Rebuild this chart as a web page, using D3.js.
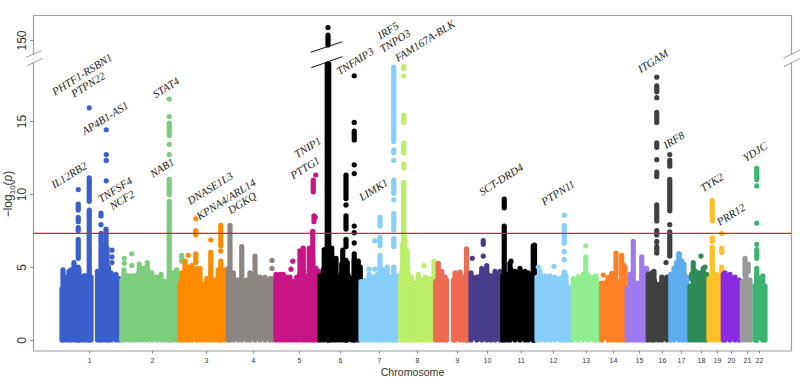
<!DOCTYPE html>
<html>
<head>
<meta charset="utf-8">
<script src="https://cdn.jsdelivr.net/npm/d3@7"></script>
<style>
  html, body { margin: 0; padding: 0; background: #fff; }
  svg { display: block; }
</style>
</head>
<body>
<script>
const width = 800;
const height = 377;

const chromosomes = ['1','2','3','4','5','6','7','8','9','10','11','12','13','14','15','16','17','18','19','20','21','22'];
const chromColors = ['#3a5fcd','#7ccd7c','#ff8c00','#8b8682','#c71585','#000000','#87cefa','#bcee68','#ee6a50','#483d8b','#000000','#87cefa','#90ee90','#ff7f24','#9f79ee','#404040','#5cacee','#2e8b57','#ffc125','#8a2be2','#999999','#3cb371'];
const tickPos = [121,372,588,776,960,1124,1280,1432,1592,1712,1847,1976,2107,2216,2320,2412,2488,2568,2632,2688,2752,2800];

// upper edge of the solid mass per chromosome: genome position (Mb) and -log10(p), null = gap
const massPos = [
  [12,16,28,40,48,60,72,80,88,100,108,116,128,140,154,162,168,180,192,198,208,228,240],
  [251,260,277,291,304,321,337,353,371,391,408,424,441,457,471],
  [484,491,504,517,531,551,564,577,591,607,624,637,651,664],
  [677,697,717,731,751,764,784,804,824,844,856],
  [868,884,897,911,924,937,951,964,977,988,1001,1015,1028,1037],
  [1044,1057,1077,1091,1104,1117,1131,1144,1153,1171,1181,1197],
  [1208,1224,1240,1257,1273,1284,1297,1313,1327,1339,1353],
  [1367,1380,1395,1410,1423,1437,1451,1465,1481,1497],
  [1507,1517,1531,1544,1550,1564,1578,1584,1604,1617,1631,1637],
  [1648,1671,1691,1711,1727,1744,1764],
  [1775,1793,1804,1824,1844,1864,1877,1897],
  [1912,1924,1944,1964,1984,2004,2017,2028,2041,2047],
  [2057,2077,2097,2117,2137,2148,2160],
  [2171,2197,2211,2228,2237,2251,2264],
  [2273,2284,2297,2308,2317,2331,2341,2351],
  [2357,2371,2380,2397,2411,2431],
  [2447,2460,2480,2491,2500,2511],
  [2524,2537,2551,2564,2577,2591],
  [2600,2613,2631,2644],
  [2657,2664,2684,2704,2721],
  [2733,2748,2764],
  [2784,2791,2815,2824]
];
const massTop = [
  [3.5,4.8,4.3,4.7,4.8,5.3,4.6,4.8,4.3,4.4,4.4,4.4,4.3,null,4.7,4.3,6.3,6.5,6.3,5.0,4.6,4.5,4.2],
  [4.1,4.8,4.4,4.4,4.4,5.2,4.9,5.3,4.6,4.3,4.5,4.0,4.2,4.6,4.8],
  [3.9,4.6,5.4,5.0,5.1,4.9,4.9,3.8,4.2,4.6,4.1,4.8,4.6,4.8],
  [4.9,4.6,4.1,4.2,4.1,4.6,4.5,4.3,4.3,4.2,4.2],
  [4.5,4.5,4.5,4.3,4.3,4.0,4.3,4.6,4.7,4.4,4.8,5.5,4.9,4.7],
  [4.4,4.8,5.0,5.2,5.3,4.4,5.2,5.0,5.3,4.2,5.5,5.4],
  [4.0,4.1,4.5,4.3,4.5,4.6,4.8,5.0,4.3,4.4,4.4],
  [4.2,5.0,5.0,4.3,3.9,4.5,4.1,4.3,4.2,4.2],
  [4.0,5.25,4.7,4.3,4.1,null,4.1,4.6,4.65,4.3,4.8,4.2],
  [4.6,4.3,4.9,5.1,4.4,4.7,4.7],
  [4.4,4.5,5.25,4.7,4.9,4.7,4.6,4.5],
  [4.3,4.7,4.4,4.4,4.3,4.2,4.4,4.4,3.6,2.9],
  [4.2,4.35,4.5,4.45,4.3,4.4,3.9],
  [3.9,4.3,4.55,4.2,3.9,4.5,5.0],
  [3.5,4.5,4.6,3.9,3.9,4.3,4.9,4.9],
  [4.5,4.6,4.7,3.8,4.3,4.3],
  [4.5,4.9,5.9,5.4,5.2,4.3],
  [3.7,4.4,4.6,4.6,4.9,4.5],
  [4.2,4.5,4.5,4.2],
  [4.5,4.6,4.5,4.3,4.1],
  [4.0,4.7,4.1],
  [3.7,4.4,4.4,3.7]
];

// stacks of associated SNPs above the mass, per chromosome: position, low and high -log10(p)
const hitPos = [
  [121,121,121,77,77,77,77,77,77,168,168,168,188,189,189,189,189,212,212,212],
  [261,261,291,291,441,441,441,441,441,441,441,441,491],
  [517,547,547,547,607,607,647,647,647],
  [684,731,784,852,852],
  [928,935,964,977,1001,1015,1020,1025,1017,1027],
  [1073,1079,1076,1076,1061,1091,1108,1148,1148,1148,1148,1148,1181,1181,1181,1181,1181,1181,1181,1181,1181,1135,1205],
  [1240,1263,1263,1284,1284,1284,1339,1339,1339,1339,1339,1339,1339,1339],
  [1379,1379,1379,1379,1379,1379,1383,1375,1393,1460,1500,1391,1369],
  [1630],
  [1653,1697,1697],
  [1781,1781,1897,1902,1808],
  [1917,1980,2021,2021,2021,2021,2021],
  [2107,2107],
  [2177,2228,2251,2260,2211],
  [2297,2297,2331],
  [2391,2391,2391,2391,2391,2391,2391,2391,2391,2391,2391,2443,2443,2443,2443,2443,2428],
  [2480,2470,2491],
  [2537,2568,2584,2537,2530,2546],
  [2613,2613,2613,2651,2651,2651],
  [],
  [2744,2757],
  [2791,2791,2791,2791,2791,2791]
];
const hitLow = [
  [0,9.5,15.9,8.9,8.1,7.5,5.6,0,10.3,8.5,7.9,6.5,6.5,14.4,12.7,12.3,10.9,6.15,5.7,5.3],
  [5.6,5.25,5.9,5.1,0,9.95,16.5,12.7,13.4,14.0,14.6,15.3,5.4],
  [5.8,8.3,7.2,5.3,6.85,4.6,6.45,6.1,0],
  [0,4.2,4.0,5.45,4.9],
  [4.85,5.4,4.5,4.6,4.8,0,8.1,8.4,10.15,11.3],
  [0,0,140,175,4,4,4,9.7,9.25,7.6,6.4,0,18.1,14.9,13.7,12.0,11.4,7.8,7.35,6.65,0,5,4],
  [4.85,6.8,4.85,7.8,6.45,4,13.6,12.85,12.3,10.05,9.6,7.55,6.4,0],
  [18.6,18.1,14.9,12.8,11.8,0,0,0,4,5.1,4,4,4],
  [0],
  [5.6,6.55,5.75],
  [9.05,0,0,0,5.4],
  [5.0,5.05,8.55,6.65,6.05,5.5,0],
  [6.45,4.6],
  [4.45,4.5,4.3,5.1,4.55],
  [5.6,4.6,4.3],
  [18.0,17.0,16.6,14.9,13.2,12.35,11.2,8.15,7.2,6.7,5.95,12.7,11.9,8.85,7.9,5.75,5.3],
  [4.9,4.9,5.2],
  [4.9,5.75,5.0,4.5,4.2,4.5],
  [8.15,6.75,4.6,7.3,6.0,4],
  [],
  [4.4,4.7],
  [11.0,10.55,8.0,6.55,5.6,0]
];
const hitHigh = [
  [8.9,11.1,15.9,9.3,8.4,7.7,6.9,5.0,10.3,8.7,7.9,7.3,7.6,14.4,12.7,12.3,10.9,6.15,5.7,5.3],
  [5.6,5.25,5.9,5.1,9.5,11.0,16.5,12.7,13.4,14.4,14.85,15.3,5.8],
  [5.8,8.3,7.5,5.9,6.85,6.0,7.85,6.1,5.4],
  [7.85,6.4,5.75,5.45,4.9],
  [4.85,5.4,6.1,6.3,6.3,7.45,8.5,8.4,10.95,11.3],
  [18.9,18.9,160,175,6.2,6.3,5.6,11.3,9.25,8.5,6.9,5.45,18.1,14.9,14.3,12.0,11.4,7.8,7.35,6.65,5.9,6.15,5],
  [4.85,6.8,4.85,8.4,7.05,5.8,18.7,13.0,12.3,10.95,9.6,8.65,6.95,5.0],
  [18.75,18.1,15.4,13.5,12.05,10.8,7.0,6.6,6.1,5.1,5.4,5.0,4.6],
  [6.25],
  [5.6,6.8,5.75],
  [9.65,7.8,6.45,6.5,5.4],
  [5.0,5.05,8.55,7.85,6.05,5.5,4.65],
  [6.45,5.7],
  [4.45,5.95,5.8,5.1,4.55],
  [6.75,5.4,5.7],
  [18.0,17.4,16.6,15.6,13.5,12.35,11.5,9.25,7.5,6.75,6.4,12.7,12.3,11.0,7.9,7.4,5.3],
  [5.9,5.3,5.4],
  [5.3,5.75,5.0,4.7,4.5,4.7],
  [9.55,7.0,6.35,7.3,6.3,5.0],
  [],
  [5.6,5.2],
  [11.75,10.55,8.0,6.55,6.2,4.9]
];

const geneNames = ['PHTF1-RSBN1','PTPN22','AP4B1-AS1','IL12RB2','TNFSF4','NCF2','STAT4','NAB1','DNASE1L3','KPNA4/ARL14','DGKQ','TNIP1','PTTG1','TNFAIP3','IRF5','TNPO3','FAM167A-BLK','LIMK1','SCT-DRD4','PTPN11','ITGAM','IRF8','TYK2','YDJC','PRR12'];
const genePos = [92,116,184,40,224,252,428,412,604,668,732,995,984,1184,1316,1344,1464,1258,1768,1996,2376,2459,2611,2784,2688];
const geneLog = [18.2,17.5,15.2,11.3,10.3,9.6,17.3,11.8,10.4,9.65,9.4,13.2,11.8,19.1,21.2,20.5,20.5,10.3,11,10.1,19.1,13.7,10.8,12.9,8.6];

const threshold = 7.3;
const yTicksLow = [0, 5, 10, 15];
const yTicksHigh = [150];

const box = {left: 33.5, right: 791.5, top: 15.5, bottom: 351};
const dot = 5.2;

const x = d3.scaleLinear().domain([0, 2828]).range([59, 766]);
const yLow = d3.scaleLinear().domain([0, 15]).range([340, 121]);
const yHigh = d3.scaleLinear().domain([130, 180]).range([50, 25]);
const y = v => v > 25 ? yHigh(v) : yLow(v);

const svg = d3.select('body').append('svg').attr('width', width).attr('height', height)
  .style('font-family', '"Liberation Sans", sans-serif');

// frame, interrupted at the axis break
const frame = [
  [[box.left, 55], [box.left, box.top], [box.right, box.top], [box.right, 55]],
  [[box.left, 62], [box.left, box.bottom], [box.right, box.bottom], [box.right, 62]]
];
svg.append('g').selectAll('path').data(frame).join('path')
  .attr('d', d3.line())
  .attr('fill', 'none')
  .attr('stroke', '#a0a0a0')
  .attr('stroke-width', 1.2);

const slashes = [
  [[26, 57.3], [41.7, 50.7]], [[27.3, 65.7], [42.7, 58.3]],
  [[783.3, 58.3], [800, 50]], [[784, 66.7], [800, 58.3]]
];
svg.append('g').selectAll('path').data(slashes).join('path')
  .attr('d', d3.line())
  .attr('stroke', '#a0a0a0')
  .attr('stroke-width', 1);

const area = d3.area()
  .defined(d => d[1] !== null)
  .x(d => x(d[0]))
  .y0(yLow(0))
  .y1(d => yLow(d[1]));

chromosomes.forEach((c, i) => {
  const g = svg.append('g').attr('class', 'chr' + c);
  const mass = d3.zip(massPos[i], massTop[i]);
  g.append('path').attr('d', area(mass)).attr('fill', chromColors[i]);
  g.selectAll('line.col').data(mass.filter(d => d[1] !== null)).join('line')
    .attr('class', 'col')
    .attr('x1', d => x(d[0])).attr('x2', d => x(d[0]))
    .attr('y1', yLow(0)).attr('y2', d => yLow(d[1]))
    .attr('stroke', chromColors[i])
    .attr('stroke-width', dot)
    .attr('stroke-linecap', 'round');
  g.selectAll('line.hit').data(d3.zip(hitPos[i], hitLow[i], hitHigh[i])).join('line')
    .attr('class', 'hit')
    .attr('x1', d => x(d[0])).attr('x2', d => x(d[0]))
    .attr('y1', d => y(d[1])).attr('y2', d => y(d[2]))
    .attr('stroke', chromColors[i])
    .attr('stroke-width', dot)
    .attr('stroke-linecap', 'round');
});

// break in the chromosome 6 peak
svg.append('g').selectAll('path')
  .data([[[310.7, 52.3], [342.3, 41.7]], [[311.3, 67.7], [342.3, 56.7]]]).join('path')
  .attr('d', d3.line())
  .attr('stroke', '#111')
  .attr('stroke-width', 1);

svg.append('line')
  .attr('x1', box.left).attr('x2', box.right)
  .attr('y1', yLow(threshold)).attr('y2', yLow(threshold))
  .attr('stroke', '#f01c1c')
  .attr('stroke-width', 1.3);

const yAxis = (g, scale, ticks) => g
  .attr('transform', `translate(${box.left},0)`)
  .call(d3.axisLeft(scale).tickValues(ticks).tickSize(3.5).tickPadding(3))
  .call(g => g.select('.domain').remove())
  .call(g => g.selectAll('line').attr('stroke', '#909090'))
  .call(g => g.selectAll('text')
    .attr('transform', 'rotate(-90)')
    .attr('x', 0).attr('dy', 0)
    .attr('y', -8)
    .attr('fill', '#333')
    .style('font-size', '12px')
    .style('text-anchor', 'middle'));

svg.append('g').call(yAxis, yLow, yTicksLow);
svg.append('g').call(yAxis, yHigh, yTicksHigh);

svg.append('g')
  .attr('transform', `translate(0,${box.bottom})`)
  .call(d3.axisBottom(x).tickValues(tickPos).tickFormat((d, i) => chromosomes[i]).tickSize(2.5).tickPadding(5))
  .call(g => g.select('.domain').remove())
  .call(g => g.selectAll('line').attr('stroke', '#808080'))
  .call(g => g.selectAll('text').attr('fill', '#333').style('font-size', '7px'));

svg.append('text')
  .attr('x', 412.5).attr('y', 376)
  .attr('text-anchor', 'middle')
  .attr('fill', '#333')
  .style('font-size', '10.6px')
  .text('Chromosome');

const yLabel = svg.append('text')
  .attr('transform', 'translate(12,194) rotate(-90)')
  .attr('text-anchor', 'middle')
  .attr('fill', '#333')
  .style('font-size', '12px');
yLabel.append('tspan').text('−log');
yLabel.append('tspan').attr('dy', 3).style('font-size', '8px').text('10');
yLabel.append('tspan').attr('dy', -3).text('(');
yLabel.append('tspan').style('font-style', 'italic').text('p');
yLabel.append('tspan').text(')');

svg.append('g').selectAll('text').data(geneNames).join('text')
  .attr('transform', (d, i) => `translate(${x(genePos[i])},${yLow(geneLog[i])}) rotate(-32)`)
  .attr('text-anchor', 'middle')
  .attr('dy', '0.35em')
  .attr('fill', '#222')
  .style('font-family', '"Liberation Serif", serif')
  .style('font-style', 'italic')
  .style('font-size', '11px')
  .text(d => d);
</script>
</body>
</html>
